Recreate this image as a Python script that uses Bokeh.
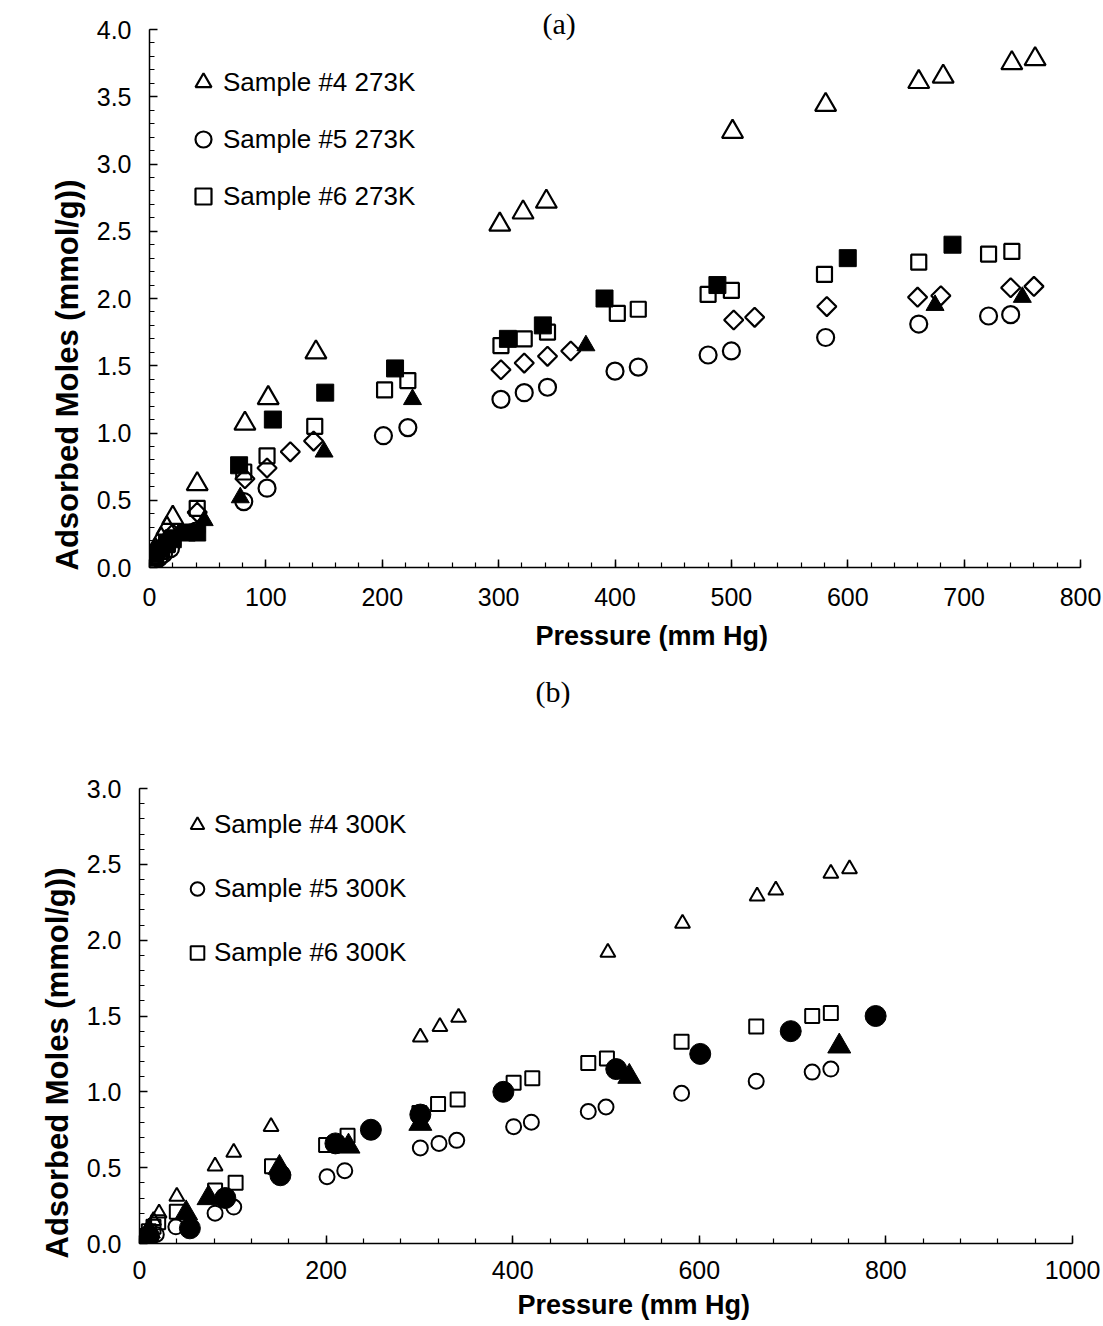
import numpy as np
from bokeh.plotting import figure
from bokeh.models import Range1d, SingleIntervalTicker, Title, NumeralTickFormatter
from bokeh.embed import file_html
from bokeh.resources import INLINE

# ---------------- (a) 273 K ----------------
s4_273_x = [2, 5, 10, 15, 20, 41, 82, 102, 143, 301, 321, 341, 501, 581, 661, 682, 741, 761]
s4_273_y = [0.07, 0.13, 0.21, 0.29, 0.37, 0.62, 1.07, 1.26, 1.60, 2.55, 2.64, 2.72, 3.24, 3.44, 3.61, 3.65, 3.75, 3.78]

s5_273_x = [3, 8, 12, 18, 40, 81, 101, 201, 222, 302, 322, 342, 400, 420, 480, 500, 581, 661, 721, 740]
s5_273_y = [0.03, 0.07, 0.10, 0.14, 0.27, 0.49, 0.59, 0.98, 1.04, 1.25, 1.30, 1.34, 1.46, 1.49, 1.58, 1.61, 1.71, 1.81, 1.87, 1.88]

s6_273_x = [5, 10, 15, 20, 41, 81, 101, 142, 202, 222, 302, 322, 342, 402, 420, 480, 500, 580, 661, 721, 741]
s6_273_y = [0.07, 0.12, 0.17, 0.22, 0.44, 0.71, 0.83, 1.05, 1.32, 1.39, 1.65, 1.70, 1.75, 1.89, 1.92, 2.03, 2.06, 2.18, 2.27, 2.33, 2.35]

dia_273_x = [5, 10, 20, 41, 82, 101, 121, 141, 302, 322, 342, 362, 502, 520, 582, 660, 680, 740, 760]
dia_273_y = [0.08, 0.14, 0.25, 0.41, 0.66, 0.74, 0.86, 0.94, 1.47, 1.52, 1.57, 1.61, 1.84, 1.86, 1.94, 2.01, 2.02, 2.08, 2.09]

fsq_273_x = [5, 10, 15, 20, 32, 41, 77, 106, 151, 211, 308, 338, 391, 488, 600, 690]
fsq_273_y = [0.10, 0.14, 0.18, 0.21, 0.26, 0.26, 0.76, 1.10, 1.30, 1.48, 1.70, 1.80, 2.00, 2.10, 2.30, 2.40]

ftri_273_x = [10, 25, 47, 78, 150, 226, 375, 675, 750]
ftri_273_y = [0.12, 0.25, 0.35, 0.52, 0.86, 1.25, 1.65, 1.95, 2.01]

# ---------------- (b) 300 K ----------------
s4_300_x = [5, 10, 15, 21, 40, 81, 101, 141, 301, 322, 342, 502, 582, 662, 682, 741, 761]
s4_300_y = [0.05, 0.10, 0.15, 0.20, 0.31, 0.51, 0.60, 0.77, 1.36, 1.43, 1.49, 1.92, 2.11, 2.29, 2.33, 2.44, 2.47]

s5_300_x = [3, 8, 12, 18, 39, 81, 101, 201, 220, 301, 321, 340, 401, 420, 481, 500, 581, 661, 721, 741]
s5_300_y = [0.01, 0.02, 0.04, 0.06, 0.11, 0.20, 0.24, 0.44, 0.48, 0.63, 0.66, 0.68, 0.77, 0.80, 0.87, 0.90, 0.99, 1.07, 1.13, 1.15]

s6_300_x = [5, 10, 15, 20, 40, 81, 103, 142, 200, 223, 300, 320, 341, 401, 421, 481, 501, 581, 661, 721, 741]
s6_300_y = [0.05, 0.08, 0.11, 0.14, 0.21, 0.35, 0.40, 0.51, 0.65, 0.71, 0.86, 0.92, 0.95, 1.06, 1.09, 1.19, 1.22, 1.33, 1.43, 1.50, 1.52]

fci_300_x = [10, 54, 92, 151, 210, 248, 301, 390, 511, 601, 698, 789]
fci_300_y = [0.05, 0.10, 0.30, 0.45, 0.66, 0.75, 0.85, 1.00, 1.15, 1.25, 1.40, 1.50]

ftri_300_x = [10, 50, 74, 150, 224, 301, 525, 750]
ftri_300_y = [0.08, 0.20, 0.30, 0.50, 0.64, 0.79, 1.10, 1.30]

FONT = "Liberation Sans"
SERIF = "Liberation Serif"


def style(p, xint, yint, xstand):
    p.xgrid.visible = False
    p.ygrid.visible = False
    p.outline_line_color = None
    p.background_fill_color = "white"
    p.border_fill_color = "white"
    p.xaxis.ticker = SingleIntervalTicker(interval=xint, num_minor_ticks=5)
    p.yaxis.ticker = SingleIntervalTicker(interval=yint, num_minor_ticks=5)
    p.yaxis.formatter = NumeralTickFormatter(format="0.0")
    p.xaxis.formatter = NumeralTickFormatter(format="0")
    for ax in (p.xaxis[0], p.yaxis[0]):
        ax.axis_line_color = "black"
        ax.axis_line_width = 1.5
        ax.major_tick_line_color = "black"
        ax.minor_tick_line_color = "black"
        ax.major_tick_line_width = 1.5
        ax.minor_tick_line_width = 1.2
        ax.major_tick_in = 8
        ax.major_tick_out = 0
        ax.minor_tick_in = 5
        ax.minor_tick_out = 0
        ax.major_label_text_font = FONT
        ax.major_label_text_font_size = "25px"
        ax.major_label_text_color = "black"
    p.yaxis[0].major_label_standoff = 18
    p.xaxis[0].major_label_standoff = xstand


def side_title(p, text, side, offset, standoff, size="27px", font=FONT, bold=True):
    p.add_layout(Title(text=text, align="left", offset=offset, standoff=standoff,
                       text_font=font, text_font_style="bold" if bold else "normal",
                       text_font_size=size, text_color="black"), side)


def setup_legend(lg, loc, gw, gh, spacing, size="26px"):
    lg.location = loc
    lg.margin = 0
    lg.padding = 0
    lg.spacing = spacing
    lg.glyph_width = gw
    lg.glyph_height = gh
    lg.label_height = gh
    lg.label_standoff = 0
    lg.label_text_font = FONT
    lg.label_text_font_size = size
    lg.label_text_color = "black"
    lg.border_line_color = None
    lg.background_fill_alpha = 0


# ---------- top figure ----------
pa = figure(width=1103, height=736, x_range=Range1d(0, 800), y_range=Range1d(0, 4),
            output_backend="svg", toolbar_location=None,
            min_border_left=149, min_border_right=23, min_border_top=29, min_border_bottom=169)
style(pa, 100, 0.5, 20)
LW = 2.2
pa.scatter(s4_273_x, s4_273_y, marker="triangle", size=21, fill_color=None, line_color="black",
           line_width=LW, legend_label="Sample #4 273K")
pa.scatter(s5_273_x, s5_273_y, marker="circle", size=17, fill_color=None, line_color="black",
           line_width=LW, legend_label="Sample #5 273K")
pa.scatter(s6_273_x, s6_273_y, marker="square", size=15, fill_color=None, line_color="black",
           line_width=LW, legend_label="Sample #6 273K")
pa.scatter(dia_273_x, dia_273_y, marker="square", angle=np.pi / 4, size=13.5, fill_color=None,
           line_color="black", line_width=LW)
pa.scatter(fsq_273_x, fsq_273_y, marker="square", size=17, fill_color="black", line_color="black",
           line_width=1)
pa.scatter(ftri_273_x, ftri_273_y, marker="triangle", size=18, fill_color="black", line_color="black",
           line_width=1)

setup_legend(pa.legend[0], (34, 351), 40, 40, 17)

pa.title.text = "(a)"
pa.title.align = "left"
pa.title.offset = 393
pa.title.standoff = -20
pa.title.text_font = SERIF
pa.title.text_font_style = "normal"
pa.title.text_font_size = "30px"
pa.title.text_color = "black"

side_title(pa, "Pressure (mm Hg)", "below", 386, 21)
side_title(pa, "(b)", "below", 386, 22, size="30px", font=SERIF, bold=False)
side_title(pa, "Adsorbed Moles (mmol/g))", "left", -3, 17, size="31px")

# ---------- bottom figure ----------
pb = figure(width=1103, height=590, x_range=Range1d(0, 1000), y_range=Range1d(0, 3),
            output_backend="svg", toolbar_location=None,
            min_border_left=139, min_border_right=31, min_border_top=52, min_border_bottom=83)
style(pb, 200, 0.5, 17)
LW2 = 2.0
pb.scatter(s4_300_x, s4_300_y, marker="triangle", size=15, fill_color=None, line_color="black",
           line_width=LW2, legend_label="Sample #4 300K")
pb.scatter(s5_300_x, s5_300_y, marker="circle", size=15, fill_color=None, line_color="black",
           line_width=LW2, legend_label="Sample #5 300K")
pb.scatter(s6_300_x, s6_300_y, marker="square", size=14, fill_color=None, line_color="black",
           line_width=LW2, legend_label="Sample #6 300K")
pb.scatter(fci_300_x, fci_300_y, marker="circle", size=21, fill_color="black", line_color="black",
           line_width=1)
pb.scatter(ftri_300_x, ftri_300_y, marker="triangle", size=23, fill_color="black", line_color="black",
           line_width=1)

setup_legend(pb.legend[0], (41, 272), 34, 37, 27)

side_title(pb, "Pressure (mm Hg)", "below", 378, 12)
side_title(pb, "Adsorbed Moles (mmol/g))", "left", -15, 17, size="31px")

open("out.html", "w").write(file_html([pa, pb], INLINE))
